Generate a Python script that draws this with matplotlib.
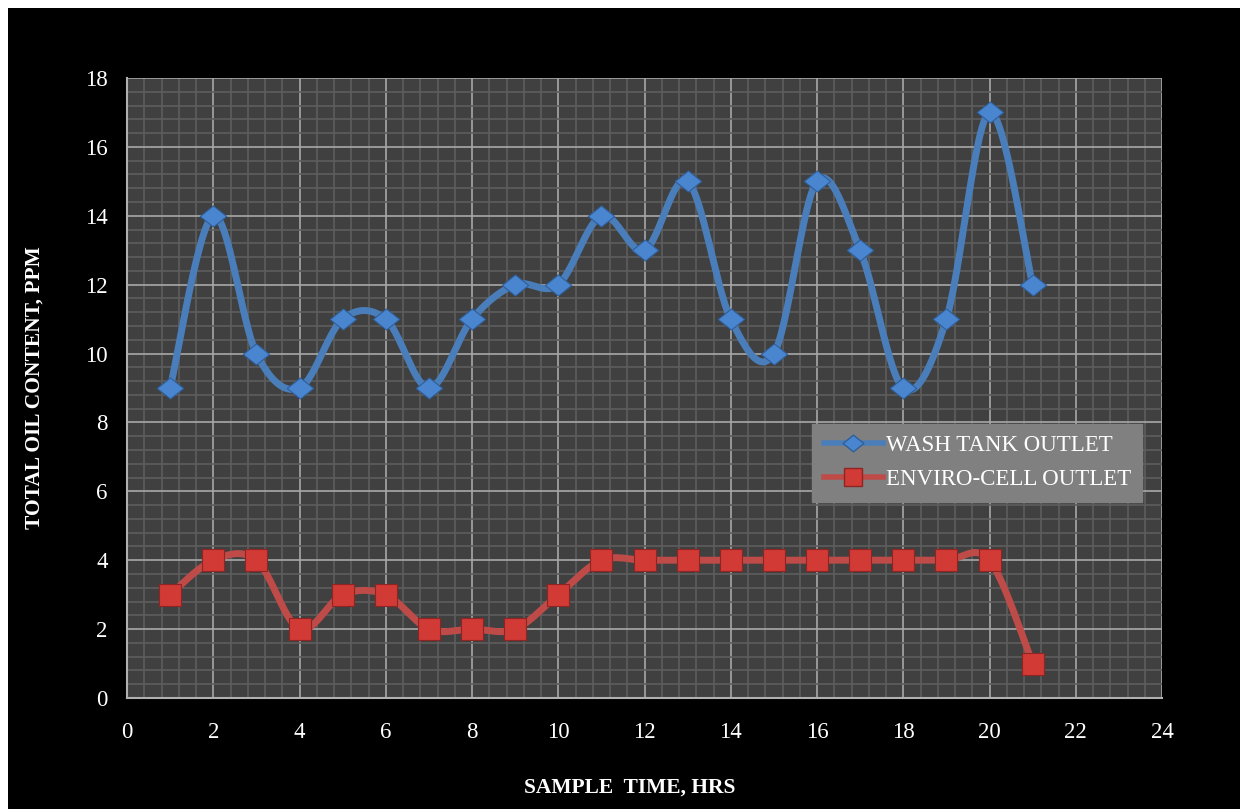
import matplotlib
matplotlib.use('Agg')
import matplotlib.pyplot as plt
from matplotlib.path import Path
from matplotlib.patches import Rectangle
from matplotlib.lines import Line2D
import numpy as np

# sample data (hours vs oil content, ppm)
hours = [1, 2, 3, 4, 5, 6, 7, 8, 9, 10, 11, 12, 13, 14, 15, 16, 17, 18, 19, 20, 21]
wash_tank = [9, 14, 10, 9, 11, 11, 9, 11, 12, 12, 14, 13, 15, 11, 10, 15, 13, 9, 11, 17, 12]
enviro_cell = [3, 4, 4, 2, 3, 3, 2, 2, 2, 3, 4, 4, 4, 4, 4, 4, 4, 4, 4, 4, 1]
x_ticks = [0, 2, 4, 6, 8, 10, 12, 14, 16, 18, 20, 22, 24]
y_ticks = [0, 2, 4, 6, 8, 10, 12, 14, 16, 18]


def smooth(xs, ys, n=30):
    # Catmull-Rom style bezier smoothing like spreadsheet "smoothed lines"
    xs = np.asarray(xs, float)
    ys = np.asarray(ys, float)
    px = np.concatenate([[xs[0]], xs, [xs[-1]]])
    py = np.concatenate([[ys[0]], ys, [ys[-1]]])
    ox, oy = [], []
    t = np.linspace(0, 1, n)
    for i in range(1, len(px) - 2):
        p0 = np.array([px[i], py[i]])
        p3 = np.array([px[i + 1], py[i + 1]])
        p1 = p0 + (np.array([px[i + 1], py[i + 1]]) - np.array([px[i - 1], py[i - 1]])) / 6
        p2 = p3 - (np.array([px[i + 2], py[i + 2]]) - np.array([px[i], py[i]])) / 6
        b = ((1 - t) ** 3)[:, None] * p0 + (3 * (1 - t) ** 2 * t)[:, None] * p1 \
            + (3 * (1 - t) * t ** 2)[:, None] * p2 + (t ** 3)[:, None] * p3
        ox.extend(b[:, 0])
        oy.extend(b[:, 1])
    return ox, oy


# flattened diamond marker
diamond = Path([(0, 0.8), (1, 0), (0, -0.8), (-1, 0), (0, 0.8)],
               [Path.MOVETO, Path.LINETO, Path.LINETO, Path.LINETO, Path.CLOSEPOLY])

plt.rcParams['font.family'] = ['Liberation Serif', 'DejaVu Serif']

fig = plt.figure(figsize=(12.48, 8.09), dpi=100)
fig.patch.set_facecolor('white')
fig.patches.append(Rectangle((8 / 1248, 0), 1232 / 1248, 801 / 809,
                             transform=fig.transFigure, facecolor='black',
                             edgecolor='none', zorder=-10))

ax = fig.add_axes([127 / 1248, 1 - 698 / 809, 1035 / 1248, 620 / 809])
ax.set_facecolor('#404040')
ax.set_xlim(0, 24)
ax.set_ylim(0, 18)

# grid: minor every 0.4, major every 2
ax.set_xticks(x_ticks)
ax.set_yticks(y_ticks)
ax.set_xticks(np.arange(0, 24.01, 0.4), minor=True)
ax.set_yticks(np.arange(0, 18.01, 0.4), minor=True)
ax.grid(which='minor', color='#5e5e5e', linewidth=1.2)
ax.grid(which='major', color='#a8a8a8', linewidth=1.2)
ax.set_axisbelow(True)

for side in ['top', 'right']:
    ax.spines[side].set_visible(False)
for side in ['left', 'bottom']:
    ax.spines[side].set_color('#b0b0b0')
    ax.spines[side].set_linewidth(1.5)

ax.tick_params(which='both', length=0, colors='#b0b0b0')
ax.tick_params(axis='x', pad=17, labelsize=16.5, labelcolor='white')
ax.tick_params(axis='y', pad=14, labelsize=16.5, labelcolor='white')

sx, sy = smooth(hours, wash_tank)
ax.plot(sx, sy, color='#4a7ebb', linewidth=5, solid_capstyle='round', zorder=3)
ax.plot(hours, wash_tank, linestyle='none', marker=diamond, markersize=19,
        markerfacecolor='#4a86d0', markeredgecolor='#2f5f9a', markeredgewidth=0.8, zorder=4)

sx, sy = smooth(hours, enviro_cell)
ax.plot(sx, sy, color='#be4b48', linewidth=5, solid_capstyle='round', zorder=3)
ax.plot(hours, enviro_cell, linestyle='none', marker='s', markersize=16,
        markerfacecolor='#d23a36', markeredgecolor='#8e2522', markeredgewidth=0.8, zorder=4)

handles = [
    Line2D([], [], color='#4a7ebb', linewidth=4, marker=diamond, markersize=15,
           markerfacecolor='#4a86d0', markeredgecolor='#2f5f9a'),
    Line2D([], [], color='#be4b48', linewidth=4, marker='s', markersize=13,
           markerfacecolor='#d23a36', markeredgecolor='#8e2522'),
]
leg = ax.legend(handles, ['WASH TANK OUTLET', 'ENVIRO-CELL OUTLET'],
                loc='upper left', bbox_to_anchor=(0.662, 0.442), frameon=True,
                fancybox=False, facecolor='#808080', edgecolor='#808080', framealpha=1,
                fontsize=16.5, handlelength=2.6, handletextpad=0.1, labelspacing=0.55,
                borderpad=0.5, borderaxespad=0)
for txt in leg.get_texts():
    txt.set_color('white')

fig.text(630 / 1248, 1 - 788 / 809, 'SAMPLE  TIME, HRS', fontsize=15.5, fontweight='bold',
         color='white', ha='center', va='center')
fig.text(35 / 1248, 1 - 388 / 809, 'TOTAL OIL CONTENT, PPM', fontsize=15.5, fontweight='bold',
         color='white', ha='center', va='center', rotation=90)

fig.savefig('out.png', dpi=100, facecolor=fig.get_facecolor())
